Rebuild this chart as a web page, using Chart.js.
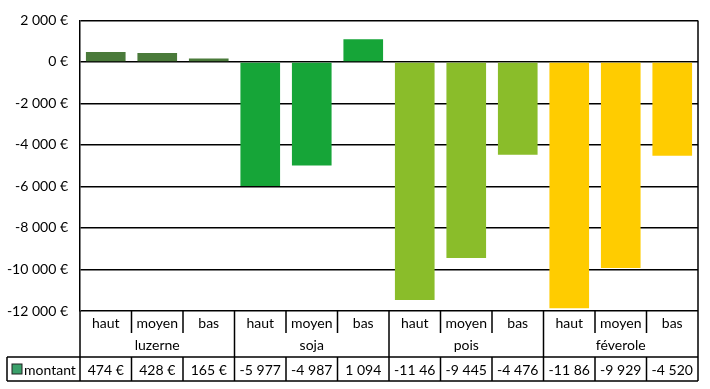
<!DOCTYPE html>
<html>
<head>
<meta charset="utf-8">
<script src="https://cdn.jsdelivr.net/npm/chart.js@4"></script>
<style>
  html, body { margin: 0; padding: 0; background: #fff; }
  #wrap { width: 710px; height: 389px; position: relative; }
</style>
</head>
<body>
<div id="wrap"><canvas id="chart"></canvas></div>
<script>
// data
const crops = ['luzerne', 'soja', 'pois', 'féverole'];
const levels = ['haut', 'moyen', 'bas'];
const montant = [474, 428, 165, -5977, -4987, 1094, -11465, -9445, -4476, -11865, -9929, -4520];
// what the table cells show (two of them are cut off in the original)
const montantText = ['474 €', '428 €', '165 €', '-5 977', '-4 987', '1 094', '-11 46', '-9 445', '-4 476', '-11 86', '-9 929', '-4 520'];
const cropColors = ['#4a7a3a', '#16a538', '#8abd2a', '#ffcc00'];
const seriesName = 'montant';

const FONT = 'Lato, "Open Sans", sans-serif';
const FSIZE = 14;

var labels = [];
var barColors = [];
crops.forEach(function(c, ci) {
  levels.forEach(function(l) {
    labels.push(l);
    barColors.push(cropColors[ci]);
  });
});

function euro(v) {
  var s = Math.abs(v).toString().replace(/\B(?=(\d{3})+(?!\d))/g, ' ');
  return (v < 0 ? '-' : '') + s + ' €';
}

// data table under the plot, Excel style
const tablePlugin = {
  id: 'dataTable',
  afterDraw: function(chart) {
    const ctx = chart.ctx;
    const area = chart.chartArea;
    const x = chart.scales.x;
    const n = labels.length;
    const step = (area.right - area.left) / n;
    const row1 = area.bottom + 22;
    const row2 = area.bottom + 46;
    const row3 = area.bottom + 70;
    const keyLeft = 7;

    ctx.save();
    ctx.strokeStyle = '#000';
    ctx.lineWidth = 1.5;
    ctx.beginPath();
    // outer verticals
    ctx.moveTo(area.left, area.bottom); ctx.lineTo(area.left, row3);
    ctx.moveTo(area.right, area.bottom); ctx.lineTo(area.right, row3);
    // level separators in the first row, group separators full height
    for (let i = 1; i < n; i++) {
      const xp = area.left + i * step;
      if (i % 3 === 0) {
        ctx.moveTo(xp, area.bottom); ctx.lineTo(xp, row3);
      } else {
        ctx.moveTo(xp, area.bottom); ctx.lineTo(xp, row1);
        ctx.moveTo(xp, row2); ctx.lineTo(xp, row3);
      }
    }
    // montant row box
    ctx.moveTo(keyLeft, row2); ctx.lineTo(area.right, row2);
    ctx.moveTo(keyLeft, row3); ctx.lineTo(area.right, row3);
    ctx.moveTo(keyLeft, row2); ctx.lineTo(keyLeft, row3);
    ctx.stroke();

    ctx.fillStyle = '#000';
    ctx.font = FSIZE + 'px ' + FONT;
    ctx.textAlign = 'center';
    ctx.textBaseline = 'middle';
    for (let i = 0; i < n; i++) {
      const xp = x.getPixelForValue(i);
      ctx.fillText(labels[i], xp, area.bottom + 12);
      ctx.fillText(montantText[i], xp, (row2 + row3) / 2 + 1);
    }
    crops.forEach(function(c, ci) {
      const xp = area.left + (ci * 3 + 1.5) * step;
      ctx.fillText(c, xp, (row1 + row2) / 2);
    });

    // legend key + series name
    ctx.fillStyle = '#3aa06a';
    ctx.fillRect(12, (row2 + row3) / 2 - 5, 10, 10);
    ctx.lineWidth = 1;
    ctx.strokeStyle = '#222';
    ctx.strokeRect(12, (row2 + row3) / 2 - 5, 10, 10);
    ctx.fillStyle = '#000';
    ctx.textAlign = 'left';
    ctx.fillText(seriesName, 24, (row2 + row3) / 2 + 1);
    ctx.restore();
  }
};

const rightBorder = {
  id: 'rightBorder',
  afterDatasetsDraw: function(chart) {
    const a = chart.chartArea;
    const ctx = chart.ctx;
    ctx.save();
    ctx.strokeStyle = '#000';
    ctx.lineWidth = 1.5;
    ctx.beginPath();
    ctx.moveTo(a.right, a.top);
    ctx.lineTo(a.right, a.bottom);
    ctx.stroke();
    ctx.restore();
  }
};

new Chart(document.getElementById('chart'), {
  type: 'bar',
  data: {
    labels: labels,
    datasets: [{
      label: seriesName,
      data: montant,
      backgroundColor: barColors,
      borderWidth: 0,
      categoryPercentage: 1,
      barPercentage: 0.77
    }]
  },
  options: {
    responsive: true,
    maintainAspectRatio: false,
    animation: false,
    layout: { padding: { top: 13, right: 12, bottom: 78, left: 0 } },
    plugins: {
      legend: { display: false },
      tooltip: { enabled: false }
    },
    scales: {
      x: { display: false },
      y: {
        min: -12000,
        max: 2000,
        afterFit: function(scale) { scale.width = 80; },
        ticks: {
          stepSize: 2000,
          padding: 12,
          color: '#000',
          font: { family: FONT, size: FSIZE },
          callback: function(v) { return euro(v); }
        },
        grid: { color: '#000', lineWidth: 1.5, drawTicks: false },
        border: { color: '#000', width: 1.5 }
      }
    }
  },
  plugins: [tablePlugin, rightBorder]
});
</script>
</body>
</html>
